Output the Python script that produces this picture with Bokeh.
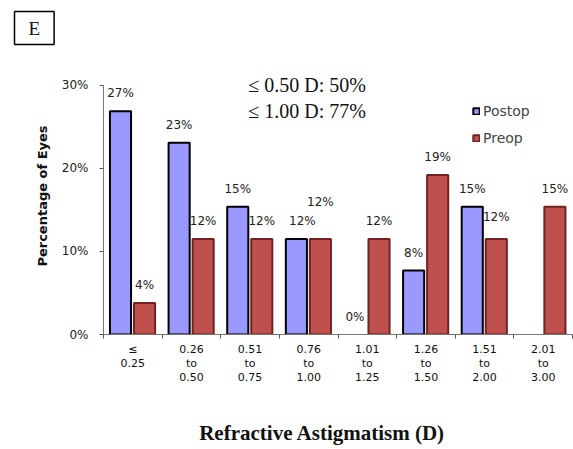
import math
from bokeh.plotting import figure
from bokeh.models import (ColumnDataSource, FixedTicker, Legend, LegendItem, Label, Title)
from bokeh.core.properties import value
from bokeh.embed import file_html
from bokeh.resources import INLINE

categories = ["\u2264\n0.25", "0.26\nto\n0.50", "0.51\nto\n0.75", "0.76\nto\n1.00",
              "1.01\nto\n1.25", "1.26\nto\n1.50", "1.51\nto\n2.00", "2.01\nto\n3.00"]
postop = [26.9, 23.1, 15.4, 11.5, 0.0, 7.7, 15.4, float("nan")]
preop = [3.8, 11.5, 11.5, 11.5, 11.5, 19.2, 11.5, 15.4]
y_ticks = [0, 10, 20, 30]
summary_lines = ["\u2264 0.50 D: 50%", "\u2264 1.00 D: 77%"]
summary_y = [30.1, 26.9]
x_title = "Refractive Astigmatism (D)"

# label nudges (style only, pixels)
post_dx = [0, 0, 0, 6, 0, 0, 0, 0]
pre_dy = [0, 0, 0, -19, 0, 0, -4, 0]

n = len(categories)
centers = [i + 0.5 for i in range(n)]
post_x = [i + 0.29 for i in range(n)]
pre_x = [i + 0.70 for i in range(n)]

def pct(v):
    return "" if (v is None or math.isnan(v)) else f"{int(v + 0.5)}%"

def vis(v):
    return 0 if (math.isnan(v) or v == 0) else 1

post_src = ColumnDataSource(dict(x=post_x, top=[0 if math.isnan(v) else v for v in postop],
                                 lab=[pct(v) for v in postop], dx=post_dx,
                                 alpha=[vis(v) for v in postop]))
pre_src = ColumnDataSource(dict(x=pre_x, top=preop, lab=[pct(v) for v in preop],
                                dy=[-18 + d for d in pre_dy]))

frame_top = 56
y_max = 30 * (334 - frame_top) / 250.0

p = figure(width=573, height=449, x_range=(0, n), y_range=(0, y_max),
           output_backend="svg", toolbar_location=None,
           min_border_left=103, min_border_right=1, min_border_top=frame_top,
           min_border_bottom=115)
p.outline_line_color = None
p.xgrid.visible = False
p.ygrid.visible = False
p.background_fill_color = "white"

r_post = p.vbar(x="x", top="top", width=0.36, source=post_src, fill_color="#9999FF",
                line_color="black", line_width=2, fill_alpha="alpha", line_alpha="alpha")
r_pre = p.vbar(x="x", top="top", width=0.36, source=pre_src, fill_color="#C0504D",
               line_color="#6E2422", line_width=2)

p.text(x="x", y="top", text="lab", source=post_src, x_offset="dx", y_offset=-18,
       text_align="center", text_baseline="middle", text_font=value("DejaVu Sans"),
       text_font_size="12px", text_color="#222222")
p.text(x="x", y="top", text="lab", source=pre_src, y_offset="dy",
       text_align="center", text_baseline="middle", text_font=value("DejaVu Sans"),
       text_font_size="12px", text_color="#222222")

# axes
xa = p.xaxis[0]
xa.ticker = FixedTicker(ticks=centers, minor_ticks=list(range(n + 1)))
xa.major_label_overrides = {c: lab for c, lab in zip(centers, categories)}
xa.major_tick_out = 0
xa.major_tick_in = 0
xa.minor_tick_out = 4
xa.minor_tick_in = 0
xa.minor_tick_line_color = "#555555"
xa.axis_line_color = "#777777"
xa.major_label_text_font = "DejaVu Sans"
xa.major_label_text_font_size = "11px"
xa.major_label_text_color = "#111111"
xa.major_label_text_line_height = 1.1
xa.major_label_standoff = 4
xa.axis_label = x_title + "\u00a0" * 6
xa.axis_label_text_font = "Liberation Serif"
xa.axis_label_text_font_size = "21px"
xa.axis_label_text_font_style = "bold"
xa.axis_label_text_color = "#111111"
xa.axis_label_standoff = 34

ya = p.yaxis[0]
ya.ticker = FixedTicker(ticks=y_ticks)
ya.bounds = (0, 30)
ya.major_label_overrides = {t: f"{t}%" for t in y_ticks}
ya.major_tick_out = 4
ya.major_tick_in = 0
ya.minor_tick_out = 0
ya.minor_tick_in = 0
ya.axis_line_color = "#777777"
ya.major_tick_line_color = "#555555"
ya.major_label_text_font = "DejaVu Sans"
ya.major_label_text_font_size = "12px"
ya.major_label_text_color = "#222222"
ya.major_label_standoff = 11
ya.axis_label = "Percentage of Eyes"
ya.axis_label_text_font = "DejaVu Sans"
ya.axis_label_text_font_size = "13px"
ya.axis_label_text_font_style = "bold"
ya.axis_label_text_color = "#111111"
ya.axis_label_standoff = 9

for txt, yy in zip(summary_lines, summary_y):
    p.add_layout(Label(x=2.47, y=yy, text=txt, text_font="Liberation Serif",
                       text_font_size="20px", text_baseline="middle", text_color="#111111"))

p.add_layout(Title(text="E", align="left", vertical_align="top", offset=-89,
                   text_font="Liberation Serif",
                   text_font_size="19px", text_font_style="normal", text_color="#111111",
                   border_line_color="black", border_line_width=1.5,
                   background_fill_color="white", padding=(14, 6), standoff=22), "above")

legend = Legend(items=[LegendItem(label="Postop", renderers=[r_post]),
                       LegendItem(label="Preop", renderers=[r_pre])],
                location=(369, 186), glyph_width=8, glyph_height=8,
                label_text_font="DejaVu Sans", label_text_font_size="14px",
                label_standoff=3, label_height=20, spacing=7, padding=0,
                border_line_color=None, background_fill_alpha=0)
p.add_layout(legend)

open("out.html", "w").write(file_html(p, INLINE))
